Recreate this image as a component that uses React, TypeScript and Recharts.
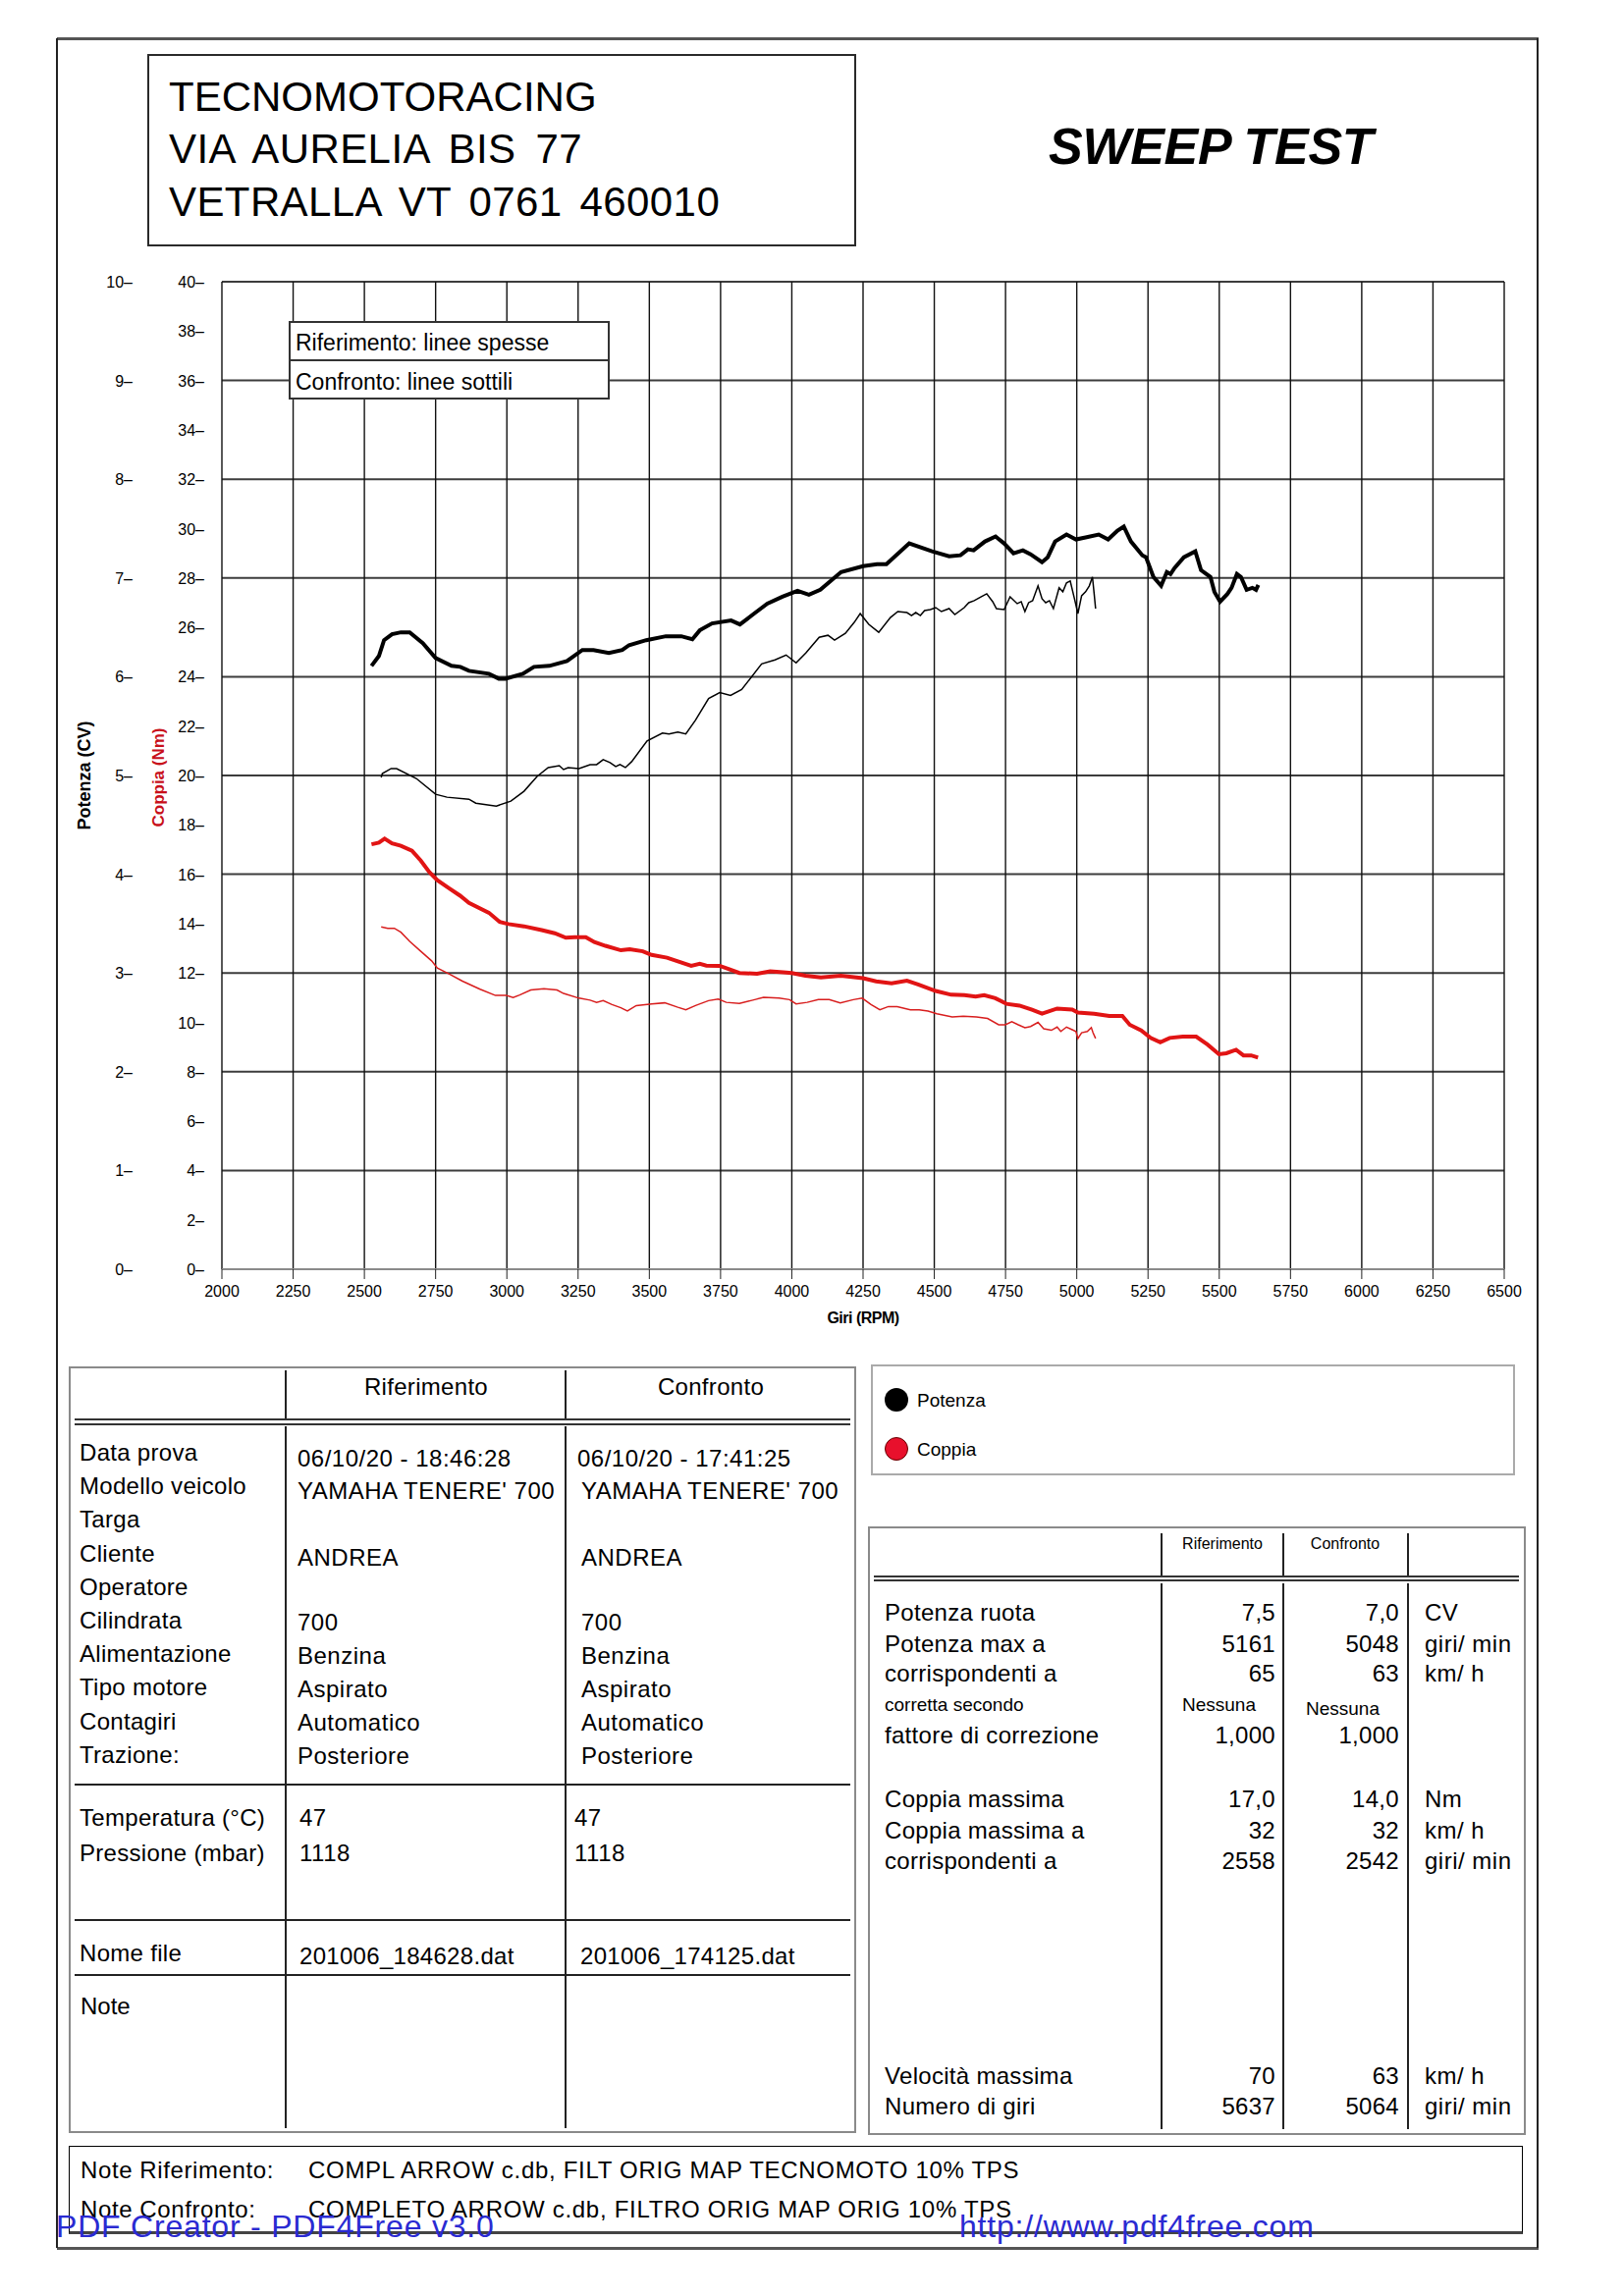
import React from "react"
import { CartesianGrid, Line, LineChart, XAxis, YAxis } from "recharts"

const FONT = "'Liberation Sans', Arial, Helvetica, sans-serif"

// giri/min di riferimento per assi e griglia
const rpmTicks = [2000, 2250, 2500, 2750, 3000, 3250, 3500, 3750, 4000, 4250, 4500, 4750, 5000, 5250, 5500, 5750, 6000, 6250, 6500]
const powerTicks = [0, 1, 2, 3, 4, 5, 6, 7, 8, 9, 10]
const torqueTicks = [0, 2, 4, 6, 8, 10, 12, 14, 16, 18, 20, 22, 24, 26, 28, 30, 32, 34, 36, 38, 40]

// [rpm, CV] - riferimento (linea spessa)
const refPower: [number, number][] = [
  [2525, 6.11], [2551, 6.21], [2569, 6.37], [2597, 6.43], [2628, 6.45], [2659, 6.45], [2705, 6.34], [2750, 6.19],
  [2806, 6.11], [2837, 6.1], [2867, 6.06], [2937, 6.03], [2972, 5.98], [2995, 5.98], [3056, 6.03], [3095, 6.1],
  [3149, 6.11], [3211, 6.16], [3265, 6.27], [3304, 6.27], [3358, 6.24], [3405, 6.27], [3429, 6.32], [3489, 6.37],
  [3558, 6.41], [3612, 6.41], [3651, 6.38], [3677, 6.47], [3720, 6.54], [3787, 6.57], [3818, 6.53], [3868, 6.64],
  [3914, 6.74], [3967, 6.81], [4020, 6.87], [4060, 6.83], [4100, 6.88], [4173, 7.06], [4250, 7.12], [4299, 7.14],
  [4332, 7.14], [4412, 7.35], [4492, 7.27], [4552, 7.22], [4592, 7.23], [4618, 7.29], [4638, 7.28], [4678, 7.37],
  [4715, 7.42], [4745, 7.35], [4778, 7.25], [4811, 7.28], [4838, 7.24], [4878, 7.16], [4898, 7.21], [4924, 7.37],
  [4964, 7.44], [4997, 7.39], [5031, 7.41], [5077, 7.44], [5110, 7.39], [5143, 7.48], [5165, 7.52], [5190, 7.37],
  [5230, 7.23], [5243, 7.21], [5269, 7.01], [5296, 6.92], [5316, 7.06], [5329, 7.04], [5343, 7.1], [5376, 7.21],
  [5416, 7.27], [5436, 7.08], [5469, 7.01], [5483, 6.86], [5503, 6.76], [5529, 6.84], [5543, 6.9], [5562, 7.04],
  [5576, 7.01], [5596, 6.88], [5616, 6.9], [5629, 6.88], [5637, 6.93],
]

// [rpm, CV] - confronto (linea sottile)
const cmpPower: [number, number][] = [
  [2559, 4.98], [2563, 5.02], [2594, 5.07], [2613, 5.07], [2682, 4.97], [2750, 4.81], [2790, 4.78], [2867, 4.76],
  [2891, 4.72], [2963, 4.69], [3014, 4.74], [3060, 4.84], [3106, 4.99], [3145, 5.08], [3184, 5.1], [3199, 5.06],
  [3215, 5.08], [3253, 5.07], [3292, 5.11], [3315, 5.11], [3338, 5.16], [3362, 5.13], [3382, 5.09], [3397, 5.11],
  [3416, 5.08], [3438, 5.14], [3492, 5.35], [3546, 5.43], [3569, 5.42], [3600, 5.44], [3628, 5.42], [3662, 5.56],
  [3708, 5.78], [3747, 5.84], [3785, 5.81], [3824, 5.87], [3894, 6.13], [3941, 6.17], [3980, 6.22], [4015, 6.14],
  [4049, 6.24], [4096, 6.4], [4127, 6.42], [4150, 6.37], [4188, 6.44], [4219, 6.55], [4240, 6.64], [4270, 6.53],
  [4305, 6.45], [4346, 6.6], [4372, 6.66], [4404, 6.65], [4420, 6.62], [4435, 6.65], [4451, 6.62], [4466, 6.67],
  [4486, 6.68], [4505, 6.7], [4525, 6.66], [4552, 6.69], [4572, 6.63], [4605, 6.7], [4621, 6.75], [4640, 6.77],
  [4665, 6.81], [4684, 6.84], [4705, 6.76], [4718, 6.69], [4745, 6.68], [4766, 6.81], [4791, 6.74], [4805, 6.76],
  [4818, 6.66], [4831, 6.75], [4845, 6.77], [4864, 6.92], [4878, 6.79], [4891, 6.75], [4904, 6.77], [4918, 6.69],
  [4938, 6.9], [4951, 6.86], [4964, 6.95], [4977, 6.97], [4991, 6.8], [5004, 6.64], [5017, 6.82], [5031, 6.86],
  [5044, 6.92], [5055, 7.01], [5061, 6.84], [5066, 6.69],
]

// [rpm, Nm] - riferimento
const refTorque: [number, number][] = [
  [2525, 17.21], [2551, 17.28], [2571, 17.44], [2597, 17.25], [2628, 17.15], [2667, 16.95], [2698, 16.55], [2728, 16.09],
  [2756, 15.76], [2797, 15.43], [2836, 15.13], [2867, 14.84], [2937, 14.44], [2975, 14.07], [3006, 13.98], [3060, 13.89],
  [3122, 13.74], [3168, 13.61], [3207, 13.43], [3238, 13.45], [3277, 13.45], [3307, 13.25], [3346, 13.1], [3400, 12.92],
  [3431, 12.96], [3477, 12.88], [3508, 12.73], [3562, 12.62], [3608, 12.44], [3647, 12.29], [3677, 12.37], [3700, 12.3],
  [3747, 12.29], [3778, 12.16], [3816, 12.0], [3878, 11.97], [3924, 12.07], [3970, 12.03], [4000, 12.0], [4048, 11.89],
  [4102, 11.82], [4172, 11.89], [4250, 11.79], [4296, 11.66], [4350, 11.58], [4404, 11.69], [4443, 11.54], [4505, 11.27],
  [4559, 11.12], [4606, 11.1], [4645, 11.04], [4675, 11.1], [4714, 10.98], [4753, 10.75], [4799, 10.68], [4843, 10.51],
  [4878, 10.35], [4931, 10.56], [4984, 10.52], [5004, 10.4], [5061, 10.35], [5114, 10.26], [5160, 10.26], [5186, 9.9],
  [5226, 9.67], [5259, 9.37], [5293, 9.19], [5326, 9.37], [5372, 9.42], [5419, 9.42], [5459, 9.1], [5499, 8.71],
  [5525, 8.75], [5559, 8.89], [5585, 8.66], [5612, 8.66], [5636, 8.57],
]

// [rpm, Nm] - confronto
const cmpTorque: [number, number][] = [
  [2559, 13.87], [2582, 13.81], [2605, 13.81], [2628, 13.65], [2659, 13.28], [2698, 12.88], [2736, 12.49], [2756, 12.2],
  [2797, 11.96], [2844, 11.67], [2906, 11.34], [2960, 11.09], [2998, 11.09], [3022, 11.01], [3045, 11.11], [3084, 11.31],
  [3130, 11.36], [3176, 11.31], [3199, 11.17], [3253, 10.98], [3292, 10.9], [3315, 10.81], [3338, 10.88], [3369, 10.72],
  [3400, 10.59], [3423, 10.46], [3454, 10.68], [3508, 10.75], [3554, 10.79], [3600, 10.61], [3628, 10.51], [3662, 10.68],
  [3708, 10.88], [3742, 10.94], [3770, 10.81], [3816, 10.77], [3863, 10.9], [3901, 11.01], [3955, 10.98], [3992, 10.92],
  [4015, 10.75], [4054, 10.81], [4093, 10.92], [4131, 10.92], [4170, 10.79], [4216, 10.92], [4247, 10.98], [4278, 10.72],
  [4309, 10.51], [4339, 10.64], [4370, 10.64], [4416, 10.51], [4447, 10.51], [4478, 10.46], [4509, 10.35], [4563, 10.22],
  [4602, 10.25], [4648, 10.22], [4687, 10.16], [4726, 9.9], [4749, 9.9], [4772, 10.03], [4795, 9.9], [4818, 9.78],
  [4838, 9.83], [4864, 10.0], [4884, 9.74], [4911, 9.68], [4931, 9.81], [4944, 9.63], [4964, 9.81], [4984, 9.7],
  [4997, 9.63], [5004, 9.35], [5017, 9.58], [5037, 9.63], [5051, 9.79], [5057, 9.58], [5066, 9.35],
]

const toRows = (pts: [number, number][]) => pts.map(([rpm, v]) => ({ rpm, v }))

const infoLabels = ["Data prova", "Modello veicolo", "Targa", "Cliente", "Operatore", "Cilindrata", "Alimentazione", "Tipo motore", "Contagiri", "Trazione:"]
const infoRef = ["06/10/20 - 18:46:28", "YAMAHA TENERE' 700", "", "ANDREA", "", "700", "Benzina", "Aspirato", "Automatico", "Posteriore"]
const infoCmp = ["06/10/20 - 17:41:25", "YAMAHA TENERE' 700", "", "ANDREA", "", "700", "Benzina", "Aspirato", "Automatico", "Posteriore"]
const infoValueY = [1486, 1519, 1550, 1587, 1620, 1653, 1687, 1721, 1755, 1789]

const stats = [
  { label: "Potenza ruota", ref: "7,5", cmp: "7,0", unit: "CV", y: 1643 },
  { label: "Potenza max a", ref: "5161", cmp: "5048", unit: "giri/ min", y: 1675 },
  { label: "corrispondenti a", ref: "65", cmp: "63", unit: "km/ h", y: 1705 },
  { label: "fattore di correzione", ref: "1,000", cmp: "1,000", unit: "", y: 1768 },
  { label: "Coppia massima", ref: "17,0", cmp: "14,0", unit: "Nm", y: 1833 },
  { label: "Coppia massima a", ref: "32", cmp: "32", unit: "km/ h", y: 1865 },
  { label: "corrispondenti a", ref: "2558", cmp: "2542", unit: "giri/ min", y: 1896 },
  { label: "Velocità massima", ref: "70", cmp: "63", unit: "km/ h", y: 2115 },
  { label: "Numero di giri", ref: "5637", cmp: "5064", unit: "giri/ min", y: 2146 },
]

const CHART_LEFT = 50
const CHART_TOP = 260

type TxtProps = {
  x: number
  y: number
  size?: number
  align?: "left" | "right" | "center"
  color?: string
  bold?: boolean
  italic?: boolean
  spacing?: number
  words?: number
  children?: React.ReactNode
}

function Txt({ x, y, size = 24, align = "left", color = "#000", bold, italic, spacing = 0, words = 0, children }: TxtProps) {
  const tx = align === "right" ? "-100%" : align === "center" ? "-50%" : "0"
  return (
    <div
      style={{
        position: "absolute",
        left: x,
        top: y,
        transform: `translate(${tx}, -50%)`,
        fontSize: size,
        lineHeight: 1,
        whiteSpace: "nowrap",
        color,
        fontWeight: bold ? "bold" : "normal",
        fontStyle: italic ? "italic" : "normal",
        letterSpacing: spacing,
        wordSpacing: words,
      }}
    >
      {children}
    </div>
  )
}

function HLine({ x1, x2, y, t = 2, c = "#222" }: { x1: number; x2: number; y: number; t?: number; c?: string }) {
  return <div style={{ position: "absolute", left: x1, top: y - t / 2, width: x2 - x1, height: t, background: c }} />
}

function VLine({ x, y1, y2, t = 2, c = "#222" }: { x: number; y1: number; y2: number; t?: number; c?: string }) {
  return <div style={{ position: "absolute", left: x - t / 2, top: y1, width: t, height: y2 - y1, background: c }} />
}

function Rect({ x, y, w, h, border }: { x: number; y: number; w: number; h: number; border: string }) {
  return <div style={{ position: "absolute", left: x, top: y, width: w, height: h, border, boxSizing: "border-box" }} />
}

const PowerTick = (props: any) => (
  <text x={135 - CHART_LEFT} y={props.y} dy={6} textAnchor="end" fontSize={16} fontFamily={FONT} fill="#000">
    {props.payload.value}–
  </text>
)

const TorqueTick = (props: any) => (
  <text x={208 - CHART_LEFT} y={props.y} dy={6} textAnchor="end" fontSize={16} fontFamily={FONT} fill="#000">
    {props.payload.value}–
  </text>
)

function DynoChart() {
  return (
    <div style={{ position: "absolute", left: CHART_LEFT, top: CHART_TOP }}>
      <LineChart width={1500} height={1120} margin={{ top: 27, right: 18, bottom: 27, left: 0 }}>
        <CartesianGrid yAxisId="power" vertical={false} stroke="#3c3c3c" strokeWidth={2} />
        <CartesianGrid yAxisId="power" horizontal={false} stroke="#111" strokeWidth={1.4} />
        <XAxis
          type="number"
          dataKey="rpm"
          domain={[2000, 6500]}
          ticks={rpmTicks}
          interval={0}
          allowDataOverflow
          height={60}
          tickSize={10}
          tickMargin={7}
          tickLine={{ stroke: "#222" }}
          axisLine={{ stroke: "#8a8a8a", strokeWidth: 2 }}
          tick={{ fontSize: 16, fill: "#000", fontFamily: FONT }}
          label={{ value: "Giri (RPM)", position: "insideBottom", offset: 5, fontSize: 16, fontWeight: "bold", fill: "#000", fontFamily: FONT, letterSpacing: -0.5 }}
        />
        <YAxis
          yAxisId="power"
          domain={[0, 10]}
          ticks={powerTicks}
          interval={0}
          width={88}
          axisLine={false}
          tickLine={false}
          tick={PowerTick}
          label={{
            content: () => (
              <text x={36} y={530} transform="rotate(-90 36 530)" textAnchor="middle" dominantBaseline="central" fontSize={18} fontWeight="bold" fontFamily={FONT} fill="#000">
                Potenza (CV)
              </text>
            ),
          }}
        />
        <YAxis
          yAxisId="torque"
          domain={[0, 40]}
          ticks={torqueTicks}
          interval={0}
          width={88}
          axisLine={false}
          tickLine={false}
          tick={TorqueTick}
          label={{
            content: () => (
              <text x={111} y={532} transform="rotate(-90 111 532)" textAnchor="middle" dominantBaseline="central" fontSize={17} fontWeight="bold" fontFamily={FONT} fill="#c8101a">
                Coppia (Nm)
              </text>
            ),
          }}
        />
        <Line yAxisId="power" data={toRows(cmpPower)} dataKey="v" type="linear" stroke="#000" strokeWidth={1.5} dot={false} isAnimationActive={false} />
        <Line yAxisId="torque" data={toRows(cmpTorque)} dataKey="v" type="linear" stroke="#d81e1e" strokeWidth={1.5} dot={false} isAnimationActive={false} />
        <Line yAxisId="power" data={toRows(refPower)} dataKey="v" type="linear" stroke="#000" strokeWidth={4} dot={false} isAnimationActive={false} />
        <Line yAxisId="torque" data={toRows(refTorque)} dataKey="v" type="linear" stroke="#e11414" strokeWidth={4} dot={false} isAnimationActive={false} />
      </LineChart>
    </div>
  )
}

export default function App() {
  return (
    <div style={{ position: "absolute", left: 0, top: 0, width: 1654, height: 2339, background: "#fff", fontFamily: FONT, color: "#000", overflow: "hidden" }}>
      {/* cornice della pagina */}
      <HLine x1={58} x2={1567} y={39} t={3} c="#555" />
      <HLine x1={58} x2={1567} y={2290} t={3} c="#555" />
      <VLine x={58} y1={39} y2={2290} t={1.5} />
      <VLine x={1566} y1={39} y2={2290} t={1.5} />

      {/* intestazione */}
      <Rect x={150} y={55} w={722} h={196} border="2px solid #2a2a2a" />
      <Txt x={172} y={99} size={42}>TECNOMOTORACING</Txt>
      <Txt x={172} y={152} size={42} words={8} spacing={0.4}>VIA AURELIA BIS 77</Txt>
      <Txt x={172} y={206} size={42} words={6} spacing={0.4}>VETRALLA VT 0761 460010</Txt>
      <Txt x={1068} y={149} size={52} bold italic spacing={-0.3}>SWEEP TEST</Txt>

      <DynoChart />

      {/* legenda spessore linee */}
      <div style={{ position: "absolute", left: 294, top: 327, width: 327, height: 80, background: "#fff", border: "2px solid #333", boxSizing: "border-box" }} />
      <HLine x1={294} x2={621} y={367} t={2} c="#333" />
      <Txt x={301} y={349} size={23}>Riferimento: linee spesse</Txt>
      <Txt x={301} y={389} size={23}>Confronto: linee sottili</Txt>

      {/* tabella dati prova */}
      <Rect x={70} y={1392} w={802} h={781} border="2px solid #8a8a8a" />
      <VLine x={291} y1={1396} y2={1445} />
      <VLine x={576} y1={1396} y2={1445} />
      <VLine x={291} y1={1453} y2={2168} />
      <VLine x={576} y1={1453} y2={2168} />
      <HLine x1={76} x2={866} y={1446} t={1.5} c="#333" />
      <HLine x1={76} x2={866} y={1451} t={1.5} c="#333" />
      <HLine x1={76} x2={866} y={1818} />
      <HLine x1={76} x2={866} y={1956} />
      <HLine x1={76} x2={866} y={2012} />
      <Txt x={434} y={1413} size={24} align="center" spacing={0.3}>Riferimento</Txt>
      <Txt x={724} y={1413} size={24} align="center" spacing={0.3}>Confronto</Txt>
      {infoLabels.map((l, i) => (
        <Txt key={l} x={81} y={1480 + i * 34.2} size={24} spacing={0.3}>{l}</Txt>
      ))}
      {infoRef.map((v, i) => (v ? <Txt key={"r" + i} x={303} y={infoValueY[i]} size={24} spacing={0.5}>{v}</Txt> : null))}
      {infoCmp.map((v, i) => (v ? <Txt key={"c" + i} x={i === 0 ? 588 : 592} y={infoValueY[i]} size={24} spacing={0.5}>{v}</Txt> : null))}
      <Txt x={81} y={1852} size={24} spacing={0.3}>Temperatura (°C)</Txt>
      <Txt x={81} y={1888} size={24} spacing={0.3}>Pressione (mbar)</Txt>
      <Txt x={305} y={1852} size={24} spacing={0.5}>47</Txt>
      <Txt x={305} y={1888} size={24} spacing={0.5}>1118</Txt>
      <Txt x={585} y={1852} size={24} spacing={0.5}>47</Txt>
      <Txt x={585} y={1888} size={24} spacing={0.5}>1118</Txt>
      <Txt x={81} y={1990} size={24} spacing={0.3}>Nome file</Txt>
      <Txt x={305} y={1993} size={24} spacing={0.3}>201006_184628.dat</Txt>
      <Txt x={591} y={1993} size={24} spacing={0.3}>201006_174125.dat</Txt>
      <Txt x={82} y={2044} size={24}>Note</Txt>

      {/* legenda potenza / coppia */}
      <Rect x={887} y={1390} w={656} h={113} border="2px solid #aaa" />
      <div style={{ position: "absolute", left: 901, top: 1414, width: 24, height: 24, borderRadius: 12, background: "#000" }} />
      <div style={{ position: "absolute", left: 901, top: 1464, width: 24, height: 24, borderRadius: 12, background: "#e8102c", border: "1.5px solid #600", boxSizing: "border-box" }} />
      <Txt x={934} y={1426} size={19}>Potenza</Txt>
      <Txt x={934} y={1476} size={19}>Coppia</Txt>

      {/* tabella prestazioni */}
      <Rect x={884} y={1555} w={670} h={620} border="2px solid #8a8a8a" />
      {[1183, 1307, 1434].map((x) => (
        <React.Fragment key={x}>
          <VLine x={x} y1={1562} y2={1605} />
          <VLine x={x} y1={1613} y2={2169} />
        </React.Fragment>
      ))}
      <HLine x1={890} x2={1547} y={1606} t={1.5} c="#333" />
      <HLine x1={890} x2={1547} y={1610} t={1.5} c="#333" />
      <Txt x={1245} y={1573} size={16} align="center">Riferimento</Txt>
      <Txt x={1370} y={1573} size={16} align="center">Confronto</Txt>
      {stats.map((s, i) => (
        <React.Fragment key={i}>
          <Txt x={901} y={s.y} size={24} spacing={0.3}>{s.label}</Txt>
          <Txt x={1299} y={s.y} size={24} align="right" spacing={0.3}>{s.ref}</Txt>
          <Txt x={1425} y={s.y} size={24} align="right" spacing={0.3}>{s.cmp}</Txt>
          {s.unit ? <Txt x={1451} y={s.y} size={24} spacing={0.5}>{s.unit}</Txt> : null}
        </React.Fragment>
      ))}
      <Txt x={901} y={1736} size={19}>corretta secondo</Txt>
      <Txt x={1204} y={1736} size={19}>Nessuna</Txt>
      <Txt x={1330} y={1740} size={19}>Nessuna</Txt>

      {/* note */}
      <div style={{ position: "absolute", left: 70, top: 2186, width: 1481, height: 90, borderTop: "1.5px solid #000", borderLeft: "1.5px solid #000", borderRight: "1.5px solid #000", borderBottom: "3px solid #444", boxSizing: "border-box" }} />
      <Txt x={82} y={2211} size={24} spacing={0.6}>Note Riferimento:</Txt>
      <Txt x={314} y={2211} size={24} spacing={0.7}>COMPL ARROW c.db, FILT ORIG MAP TECNOMOTO 10% TPS</Txt>
      <Txt x={82} y={2251} size={24} spacing={0.6}>Note Confronto:</Txt>
      <Txt x={314} y={2251} size={24} spacing={0.7}>COMPLETO ARROW c.db, FILTRO ORIG MAP ORIG 10% TPS</Txt>
      <Txt x={57} y={2268} size={32} color="#2a2ad2" spacing={0.8}>PDF Creator - PDF4Free v3.0</Txt>
      <Txt x={977} y={2268} size={32} color="#2a2ad2" spacing={0.8}>http://www.pdf4free.com</Txt>
    </div>
  )
}
